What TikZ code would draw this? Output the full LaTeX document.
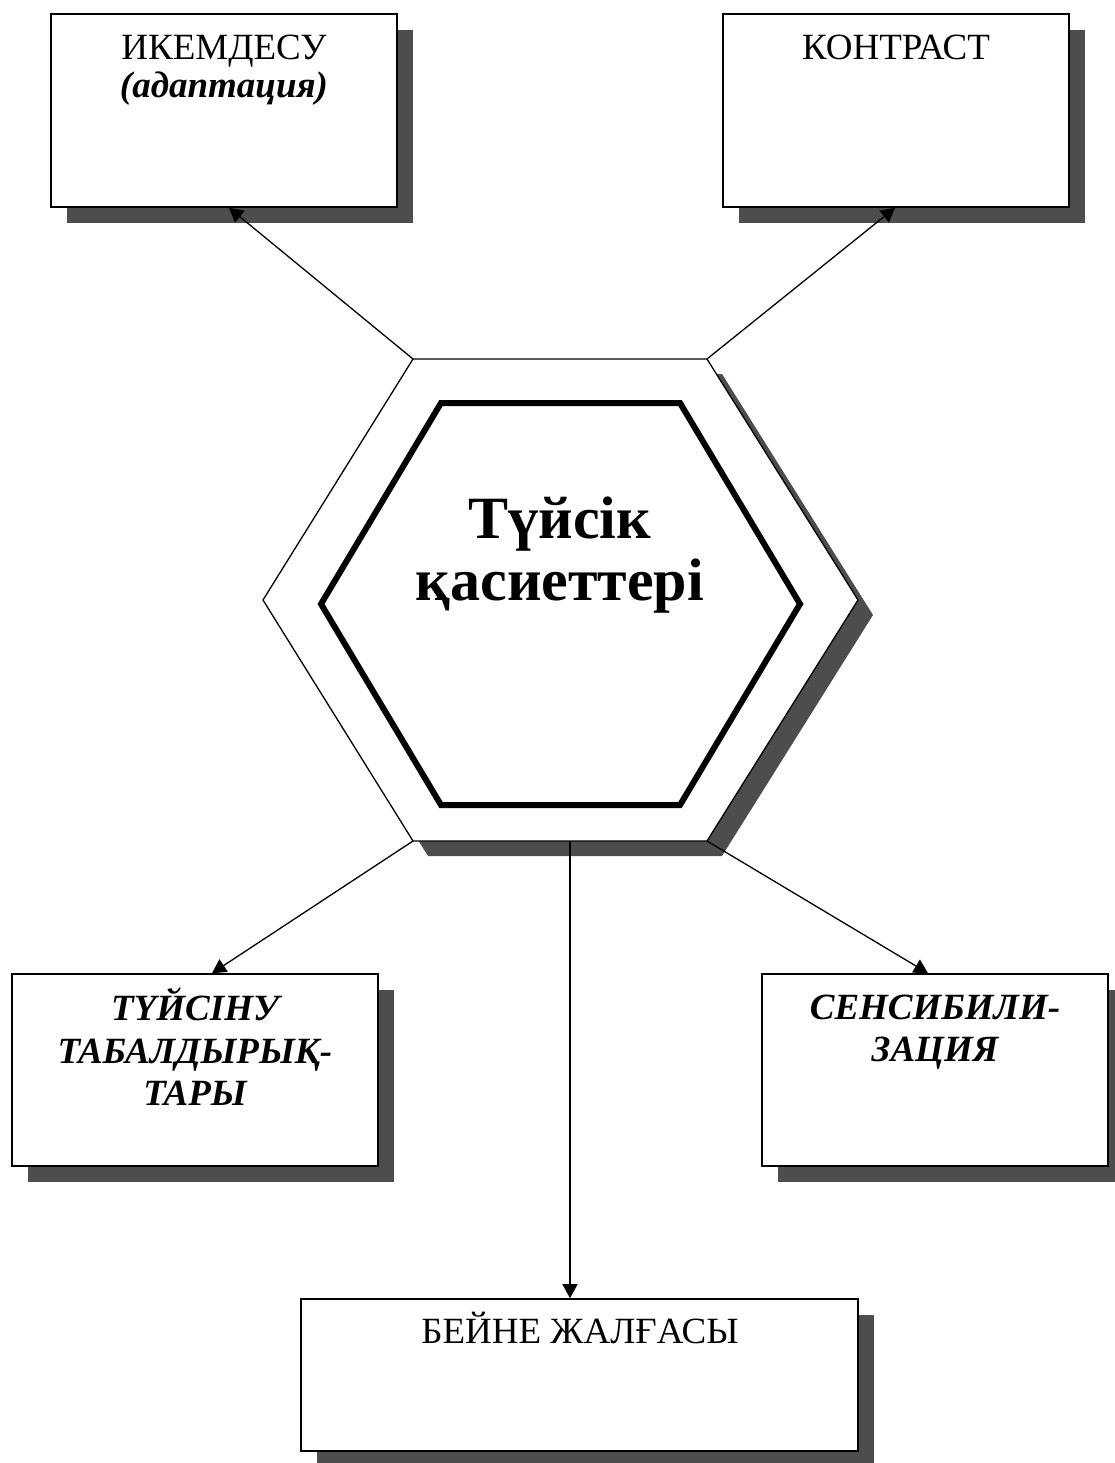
\documentclass[tikz,border=0pt]{standalone}
\usepackage{fontspec}
\setmainfont{Liberation Serif}
\usetikzlibrary{shadows,arrows.meta,calc}
\definecolor{shadowgray}{HTML}{4D4D4D}
\tikzset{
  box/.style={draw=black, line width=1.6pt, fill=white, rectangle, inner sep=0pt,
    drop shadow={shadow xshift=16pt, shadow yshift=-16pt, fill=shadowgray, opacity=1}},
  lbl/.style={anchor=base, inner sep=0pt, font=\fontsize{37}{42}\selectfont},
  lblbi/.style={lbl, font=\fontsize{37}{42}\selectfont\bfseries\itshape},
  ttl/.style={anchor=base, inner sep=0pt, font=\fontsize{60}{65}\selectfont\bfseries},
  conn/.style={line width=1.3pt, -{Triangle[length=14pt,width=15pt]}}
}
\begin{document}
\begin{tikzpicture}[x=1pt,y=-1pt]
\useasboundingbox (0,0) rectangle (1115,1463);
% hexagon vertices
\coordinate (htl) at (413,359);
\coordinate (htr) at (707,359);
\coordinate (hr) at (858,600);
\coordinate (hbr) at (707,841);
\coordinate (hbl) at (413,841);
\coordinate (hl) at (263,600);
\coordinate (hb) at (570,841);
% boxes
\node[box, minimum width=346pt, minimum height=193pt] (b1) at (224,110.5) {};
\node[box, minimum width=346pt, minimum height=193pt] (b2) at (896,110.5) {};
\node[box, minimum width=366pt, minimum height=192pt] (b3) at (195,1070) {};
\node[box, minimum width=346pt, minimum height=192pt] (b4) at (935,1070) {};
\node[box, minimum width=557pt, minimum height=152pt] (b5) at (579.5,1375) {};
% hexagon shadow
\fill[shadowgray] ([shift={(15,15)}]htl) -- ([shift={(15,15)}]htr) -- ([shift={(15,15)}]hr) -- ([shift={(15,15)}]hbr) -- ([shift={(15,15)}]hbl) -- ([shift={(15,15)}]hl) -- cycle;
% outer hexagon
\draw[fill=white, line width=1.3pt, line join=miter] (htl) -- (htr) -- (hr) -- (hbr) -- (hbl) -- (hl) -- cycle;
% inner hexagon
\draw[line width=6pt, line join=miter] (441,403) -- (680,403) -- (800,604) -- (680,805) -- (441,805) -- (321,604) -- cycle;
% title
\node[ttl] (t1) at (560,538) {Түйсік};
\node[ttl] (t2) at (560,600) {қасиеттері};
% connectors
\draw[conn] (htl) -- ([xshift=5pt]b1.south);
\draw[conn] (htr) -- ([xshift=-1pt]b2.south);
\draw[conn] (hbl) -- ([xshift=17pt]b3.north);
\draw[conn] (hbr) -- ([xshift=-7pt]b4.north);
\draw[conn] (hb) -- (hb |- b5.north);
% labels
\node[lbl] (l1a) at (224,60) {ИКЕМДЕСУ};
\node[lblbi] (l1b) at (224,98) {(адаптация)};
\node[lbl] (l2) at (896,60) {КОНТРАСТ};
\node[lblbi] (l3a) at (195,1020) {ТҮЙСІНУ};
\node[lblbi] (l3b) at (195,1063) {ТАБАЛДЫРЫҚ-};
\node[lblbi] (l3c) at (195,1105) {ТАРЫ};
\node[lblbi] (l4a) at (935,1019) {СЕНСИБИЛИ-};
\node[lblbi] (l4b) at (935,1061) {ЗАЦИЯ};
\node[lbl] (l5) at (580,1343) {БЕЙНЕ ЖАЛҒАСЫ};
\end{tikzpicture}
\end{document}
